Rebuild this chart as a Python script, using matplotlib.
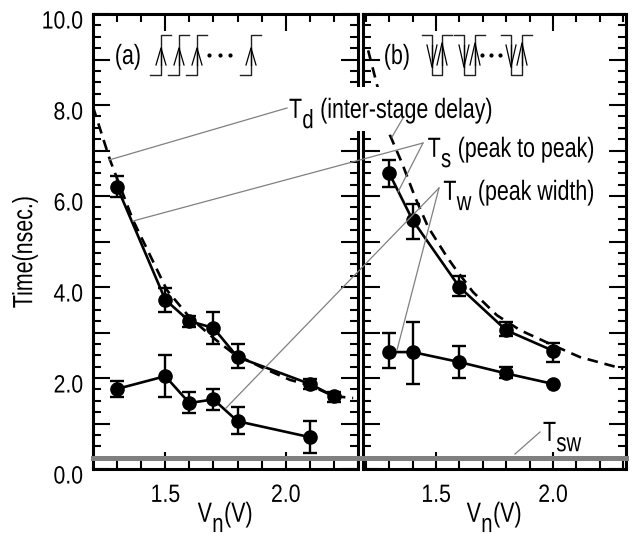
import matplotlib
matplotlib.use('Agg')
import matplotlib.pyplot as plt
import matplotlib._mathtext as mathtext_internal
import numpy as np
from matplotlib.patches import Rectangle
from matplotlib.patheffects import AbstractPathEffect
from matplotlib.ticker import MultipleLocator, NullFormatter
from matplotlib.transforms import Affine2D, ScaledTranslation

# panel (a)
a_x_s = [1.3, 1.5, 1.6, 1.7, 1.8, 2.1, 2.2]
a_s = [6.2, 3.72, 3.25, 3.1, 2.46, 1.87, 1.6]
a_s_lo = [5.98, 3.45, 3.13, 2.75, 2.22, 1.76, 1.48]
a_s_hi = [6.44, 3.98, 3.36, 3.45, 2.75, 1.98, 1.7]
a_x_w = [1.3, 1.5, 1.6, 1.7, 1.8, 2.1]
a_w = [1.76, 2.04, 1.45, 1.53, 1.05, 0.7]
a_w_lo = [1.58, 1.58, 1.23, 1.3, 0.77, 0.35]
a_w_hi = [1.93, 2.5, 1.69, 1.76, 1.36, 1.05]
a_x_d = [1.2, 1.27, 1.366, 1.507, 1.6, 1.7, 1.78, 1.905, 2.017, 2.1, 2.2, 2.28]
a_d = [7.96, 6.8, 5.47, 3.93, 3.34, 2.88, 2.55, 2.22, 1.96, 1.84, 1.6, 1.56]

# panel (b)
b_x = [1.3, 1.4, 1.6, 1.8, 2.0]
b_s = [6.5, 5.47, 4.0, 3.05, 2.6]
b_s_lo = [6.2, 5.05, 3.8, 2.92, 2.35]
b_s_hi = [6.8, 5.82, 4.24, 3.23, 2.77]
b_w = [2.57, 2.57, 2.35, 2.1, 1.87]
b_w_lo = [2.22, 1.87, 2.0, 2.0, 1.87]
b_w_hi = [3.0, 3.23, 2.7, 2.24, 1.87]
b_x_d = [1.21, 1.23, 1.248, 1.303, 1.355, 1.41, 1.466, 1.547, 1.58, 1.658, 1.76, 1.86, 2.0, 2.115, 2.3]
b_d = [9.2, 8.8, 8.44, 7.34, 6.72, 5.98, 5.32, 4.66, 4.42, 3.89, 3.38, 3.05, 2.72, 2.46, 2.2]

t_sw = 0.25
x_ticks = [1.5, 2.0]
x_labels = ['1.5', '2.0']
y_ticks = np.arange(0, 11, 1.0)
y_labels = ['0.0', '', '2.0', '', '4.0', '', '6.0', '', '8.0', '', '10.0']

W, H = 635, 533
plt.rcParams['font.family'] = ['Liberation Sans']
plt.rcParams['mathtext.fontset'] = 'custom'
plt.rcParams['mathtext.rm'] = 'Liberation Sans'
plt.rcParams['mathtext.default'] = 'rm'
# subscripts are nearly full size and drop far in the original
mathtext_internal.SHRINK_FACTOR = 0.95
mathtext_internal.FontConstantsBase.sub1 = 0.7
FS = 18
FS_BIG = 20
SX_BIG = 0.77
GRAY = '#808080'


# the original uses a narrow font, none is installed
class Narrow(AbstractPathEffect):
    def __init__(self, anchor='left', sx=0.85):
        super().__init__()
        self.anchor = anchor
        self.sx = sx

    def draw_path(self, renderer, gc, tpath, affine, rgbFace=None):
        box = tpath.get_extents()
        ox = {'left': 0, 'center': (box.x0 + box.x1) / 2, 'right': box.x1}[self.anchor]
        squeeze = Affine2D().translate(-ox, 0).scale(self.sx, 1).translate(ox, 0)
        renderer.draw_path(gc, tpath, squeeze + affine, rgbFace)


def series(ax, x, y, lo, hi):
    y = np.array(y)
    err = [y - np.array(lo), np.array(hi) - y]
    ax.errorbar(x, y, yerr=err, fmt='o-', color='k', ms=9.5, lw=1.9,
                elinewidth=1.7, capsize=4.7, capthick=1.7, zorder=4)


def panel(box, xlim):
    l, t, r, b = box
    ax = fig.add_axes([l / W, 1 - b / H, (r - l) / W, (b - t) / H])
    ax.set_xlim(*xlim)
    ax.set_ylim(0, 10)
    ax.set_xticks(x_ticks)
    ax.set_xticklabels(x_labels)
    ax.xaxis.set_minor_locator(MultipleLocator(0.1))
    ax.yaxis.set_minor_locator(MultipleLocator(0.25))
    ax.xaxis.set_minor_formatter(NullFormatter())
    ax.set_yticks(y_ticks)
    ax.tick_params(which='major', direction='in', length=12, width=1.5,
                   top=True, right=True, labelsize=FS)
    ax.tick_params(which='minor', direction='in', length=6, width=1.5,
                   top=True, right=True)
    ax.tick_params(axis='x', which='major', pad=10)
    ax.tick_params(axis='y', which='major', pad=7)
    for s in ax.spines.values():
        s.set_linewidth(2.2)
    for t_ in ax.get_xticklabels():
        t_.set_path_effects([Narrow('center')])
    return ax


fig = plt.figure(figsize=(W / 100, H / 100), dpi=100)
big_center = [Narrow('center', SX_BIG)]

ax1 = panel((93, 14, 358, 469), (1.2, 2.3))
ax1.set_yticklabels(y_labels)
down = ScaledTranslation(0, -0.05, fig.dpi_scale_trans)
for t_ in ax1.get_yticklabels():
    t_.set_path_effects([Narrow('right')])
    t_.set_transform(t_.get_transform() + down)
ax1.plot(a_x_d, a_d, 'k', lw=1.9, dashes=(4, 2.6), zorder=3)
series(ax1, a_x_s, a_s, a_s_lo, a_s_hi)
series(ax1, a_x_w, a_w, a_w_lo, a_w_hi)
ax1.axhline(t_sw, xmin=0, xmax=1.02, color=GRAY, lw=3.6, clip_on=False, zorder=5)
ax1.set_xlabel('V$_{n}$(V)', fontsize=FS_BIG, labelpad=-5, path_effects=big_center)
ax1.set_ylabel('Time(nsec.)', fontsize=FS_BIG, path_effects=big_center)
ax1.yaxis.set_label_coords(-0.207, 0.477)

ax2 = panel((363, 14, 626, 469), (1.188, 2.312))
ax2.set_yticklabels([])
ax2.plot(b_x_d, b_d, 'k', lw=1.9, dashes=(4, 2.6), zorder=3)
series(ax2, b_x, b_s, b_s_lo, b_s_hi)
series(ax2, b_x, b_w, b_w_lo, b_w_hi)
ax2.axhline(t_sw, color=GRAY, lw=3.6, clip_on=False, zorder=5)
ax2.set_xlabel('V$_{n}$(V)', fontsize=FS_BIG, labelpad=-5, path_effects=big_center)

# overlay in pixel coordinates for the callouts and the pulse sketches
ov = fig.add_axes([0, 0, 1, 1], zorder=10)
ov.set_xlim(0, W)
ov.set_ylim(H, 0)
ov.axis('off')

# white gap behind the T_d label, it cuts the spines and the dashed curve
ov.add_patch(Rectangle((285, 87), 212, 44, facecolor='white', edgecolor='none', zorder=1))
narrow = [Narrow('left', SX_BIG)]
narrow_r = [Narrow('right', SX_BIG)]
ov.text(289, 118, 'T$_{d}$ (inter-stage delay)', fontsize=FS_BIG, va='baseline', path_effects=narrow, zorder=3)
ov.text(595, 157, 'T$_{s}$ (peak to peak)', fontsize=FS_BIG, ha='right', va='baseline', path_effects=narrow_r, zorder=3)
ov.text(595, 200, 'T$_{w}$ (peak width)', fontsize=FS_BIG, ha='right', va='baseline', path_effects=narrow_r, zorder=3)
ov.text(543, 441, 'T$_{sw}$', fontsize=FS_BIG, va='baseline', path_effects=narrow, zorder=3)
ov.text(128, 57, '(a)', fontsize=FS_BIG, ha='center', va='center', path_effects=big_center)
ov.text(397, 57, '(b)', fontsize=FS_BIG, ha='center', va='center', path_effects=big_center)

callouts = [((109, 160), (287, 108)), ((392, 137), (403, 118)),
            ((133, 221), (423, 143)), ((398, 192), (423, 143)),
            ((226, 408), (439, 188)), ((397, 350), (439, 188)),
            ((515, 454), (540, 432))]
for p, q in callouts:
    ov.plot([p[0], q[0]], [p[1], q[1]], color=GRAY, lw=0.9, zorder=2)


def chevron(x, tip, base):
    ov.plot([x - 5, x, x + 5], [base, tip, base], color='k', lw=0.9)
    ov.plot([x, x], [tip, base], color='k', lw=0.9)


for x in [161, 179, 197, 251]:
    ov.plot([x - 11, x, x, x + 10], [75, 75, 35, 35], color='#222222', lw=1.0)
    chevron(x, 48, 65)
for x0, x1 in [(432, 442), (464, 475), (511, 522)]:
    ov.plot([x0 - 10, x0, x0, x1, x1, x1 + 10], [35, 35, 75, 75, 35, 35],
            color='#222222', lw=1.0)
    chevron(x0, 67, 45)
    chevron(x1, 43, 65)
ov.plot([209, 220, 230], [55, 55, 55], 'k.', ms=4)
ov.plot([482, 491, 500], [55, 55, 55], 'k.', ms=4)

fig.savefig('out.png', dpi=100)
